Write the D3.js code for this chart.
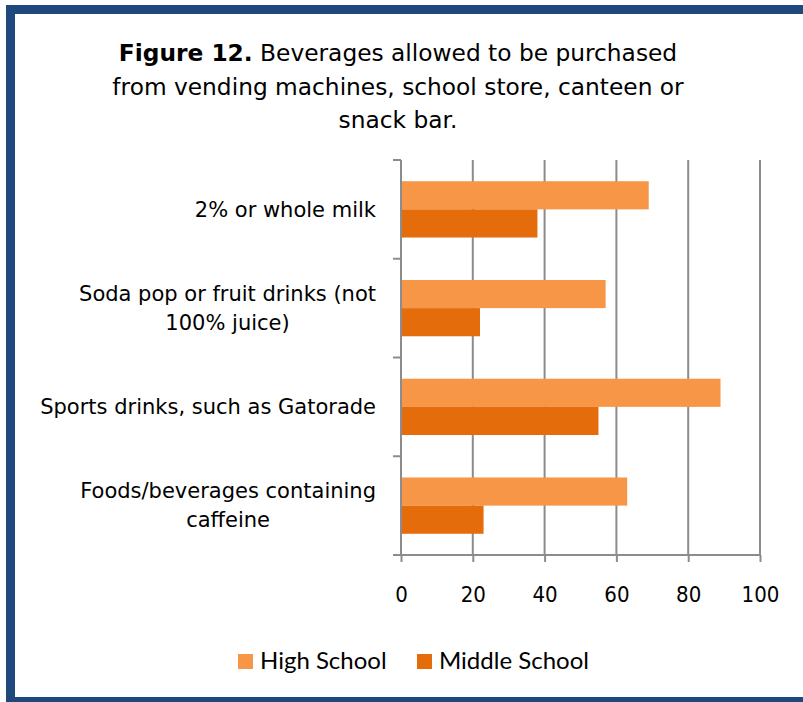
<!DOCTYPE html>
<html>
<head>
<meta charset="utf-8">
<script src="https://cdn.jsdelivr.net/npm/d3@7/dist/d3.min.js"></script>
<style>
  html, body { margin: 0; padding: 0; background: #fff; }
  svg { display: block; }
</style>
</head>
<body>
<div id="chart"></div>
<script>
// Beverage categories (top to bottom) and their wrapped label lines
const categories = [
  "2% or whole milk",
  "Soda pop or fruit drinks (not 100% juice)",
  "Sports drinks, such as Gatorade",
  "Foods/beverages containing caffeine"
];
const categoryLines = [
  ["2% or whole milk"],
  ["Soda pop or fruit drinks (not", "100% juice)"],
  ["Sports drinks, such as Gatorade"],
  ["Foods/beverages containing", "caffeine"]
];
const seriesNames = ["High School", "Middle School"];
const highSchool = [69, 57, 89, 63];
const middleSchool = [38, 22, 55, 23];
const xTicks = [0, 20, 40, 60, 80, 100];
const titleBold = "Figure 12.";
const titleLines = [
  " Beverages allowed to be purchased",
  "from vending machines, school store, canteen or",
  "snack bar."
];

const W = 803, H = 702;
const colors = ["#F79646", "#E46C0A"];
const gridColor = "#8C8C8C";
const textFont = "'DejaVu Sans', sans-serif";
const tickFont = "'DejaVu Sans Condensed', 'DejaVu Sans', sans-serif";

const svg = d3.select("#chart").append("svg")
  .attr("width", W).attr("height", H);

// Frame
svg.append("rect")
  .attr("x", 10.5).attr("y", 9.5)
  .attr("width", 820).attr("height", 692)
  .attr("fill", "#fff")
  .attr("stroke", "#1F497D").attr("stroke-width", 9);

// Title
const title = svg.append("text")
  .attr("text-anchor", "middle")
  .attr("font-family", textFont)
  .attr("font-size", 23.3)
  .attr("fill", "#000");
titleLines.forEach((line, i) => {
  const t = title.append("tspan").attr("x", 398).attr("y", 61 + i * 33.5);
  if (i === 0) {
    t.append("tspan").attr("font-weight", "bold").text(titleBold);
    t.append("tspan").text(line);
  } else {
    t.text(line);
  }
});

// Plot area
const plot = { left: 401, right: 760, top: 160, bottom: 555 };
const x = d3.scaleLinear().domain([0, 100]).range([plot.left, plot.right]);
const y = d3.scaleBand().domain(categories).range([plot.top, plot.bottom])
  .paddingInner(0.43).paddingOuter(0.215);
const ySub = d3.scaleBand().domain(seriesNames).range([0, y.bandwidth()]);

const g = svg.append("g");

// Vertical gridlines
g.selectAll("line.grid").data(xTicks.slice(1)).join("line")
  .attr("class", "grid")
  .attr("x1", d => x(d)).attr("x2", d => x(d))
  .attr("y1", plot.top).attr("y2", plot.bottom)
  .attr("stroke", gridColor).attr("stroke-width", 2);

// Bars
const rows = categories.map((c, i) => ({ cat: c, values: [highSchool[i], middleSchool[i]] }));
const grp = g.selectAll("g.cat").data(rows).join("g")
  .attr("transform", d => `translate(0,${y(d.cat)})`);
grp.selectAll("rect").data(d => d.values.map((v, j) => ({ v, s: seriesNames[j], j })))
  .join("rect")
  .attr("x", x(0))
  .attr("y", d => ySub(d.s))
  .attr("width", d => x(d.v) - x(0))
  .attr("height", ySub.bandwidth())
  .attr("fill", d => colors[d.j]);

// X axis
const xAxis = g.append("g")
  .attr("transform", `translate(0,${plot.bottom})`)
  .call(d3.axisBottom(x).tickValues(xTicks).tickSize(7).tickPadding(24));
xAxis.select(".domain").attr("stroke", gridColor).attr("stroke-width", 2)
  .attr("d", `M${plot.left - 8},0H${plot.right}`);
xAxis.selectAll(".tick line").attr("stroke", gridColor).attr("stroke-width", 2);
xAxis.selectAll(".tick text")
  .attr("font-family", tickFont).attr("font-size", 22).attr("fill", "#000");

// Y axis (category boundaries as ticks)
const yBounds = categories.map(c => y(c) - y.step() * y.paddingInner() / 2);
yBounds.push(plot.bottom);
g.append("line")
  .attr("x1", plot.left).attr("x2", plot.left)
  .attr("y1", plot.top).attr("y2", plot.bottom)
  .attr("stroke", gridColor).attr("stroke-width", 2);
g.selectAll("line.ytick").data(yBounds).join("line")
  .attr("class", "ytick")
  .attr("x1", plot.left - 8).attr("x2", plot.left)
  .attr("y1", d => d).attr("y2", d => d)
  .attr("stroke", gridColor).attr("stroke-width", 2);

// Category labels: lines centred on each other, block right-aligned
const labelRight = 376;
const lineH = 29;
categories.forEach((c, i) => {
  const lines = categoryLines[i];
  const cy = y(c) + y.bandwidth() / 2;
  const txt = g.append("text")
    .attr("font-family", textFont).attr("font-size", 21)
    .attr("fill", "#000").attr("text-anchor", "middle");
  const spans = lines.map((l, k) => txt.append("tspan")
    .attr("y", cy + (k - (lines.length - 1) / 2) * lineH)
    .attr("dy", "0.35em").text(l));
  const maxW = d3.max(spans, s => s.node().getComputedTextLength());
  spans.forEach(s => s.attr("x", labelRight - maxW / 2));
});

// Legend
const legendFont = "Lato, 'Open Sans', sans-serif";
const legend = svg.append("g");
const legItems = [{ name: seriesNames[0], x: 238 }, { name: seriesNames[1], x: 417 }];
legItems.forEach((it, j) => {
  legend.append("rect").attr("x", it.x).attr("y", 654)
    .attr("width", 15).attr("height", 15).attr("fill", colors[j]);
  legend.append("text").attr("x", it.x + 22).attr("y", 669)
    .attr("font-family", legendFont).attr("font-size", 24).attr("fill", "#000")
    .text(it.name);
});
</script>
</body>
</html>
